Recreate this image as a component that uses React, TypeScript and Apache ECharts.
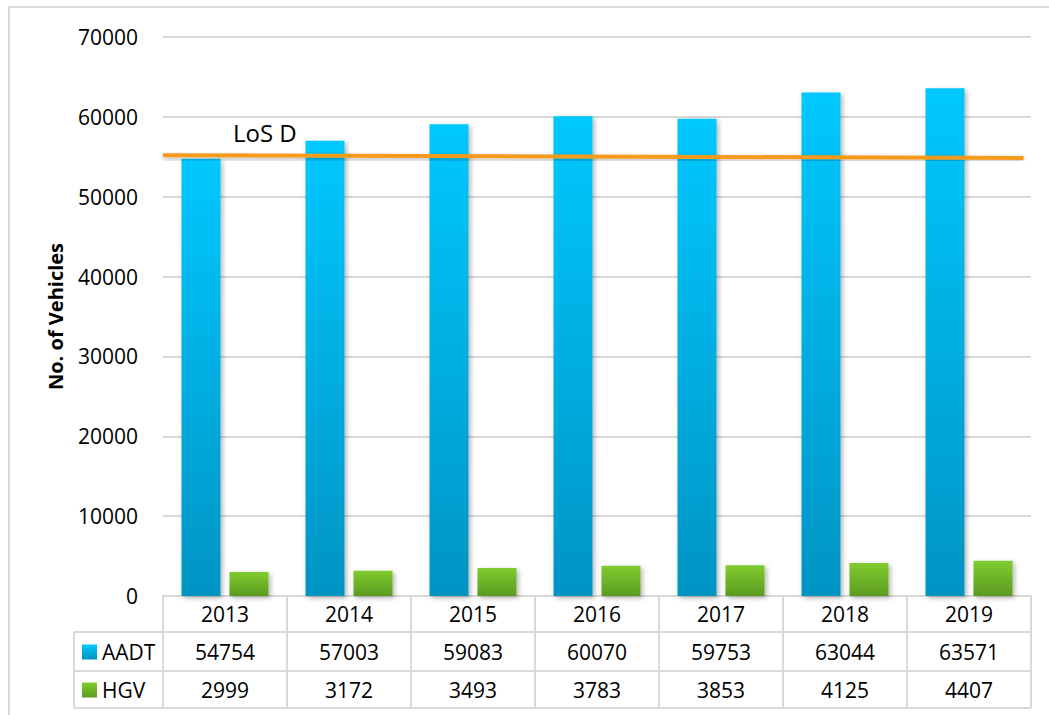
import React, { useEffect, useRef } from "react";
import * as echarts from "echarts";

// Traffic counts per year
const years = ["2013", "2014", "2015", "2016", "2017", "2018", "2019"];
const aadt = [54754, 57003, 59083, 60070, 59753, 63044, 63571];
const hgv = [2999, 3172, 3493, 3783, 3853, 4125, 4407];
// Level-of-service D threshold line (start / end on a 0..7 horizontal scale)
const losD = [
  [0, 55200],
  [6.94, 54850],
];
const yTicks = { min: 0, max: 70000, interval: 10000 };

const W = 1049;
const H = 715;
const GRID = { left: 163, right: 18, top: 37, bottom: 119 };
const FONT = "'Open Sans', 'Noto Sans', sans-serif";
const LINE = "#D9D9D9";

export default function App() {
  const ref = useRef<HTMLDivElement>(null);

  useEffect(() => {
    if (!ref.current) return;
    const chart = echarts.init(ref.current, null, { renderer: "svg" });

    const plotL = GRID.left;
    const plotR = W - GRID.right;
    const plotB = H - GRID.bottom;
    const colW = (plotR - plotL) / years.length;
    const row1 = plotB + 36;
    const row2 = plotB + 75;
    const row3 = plotB + 112;
    const tableL = 74;

    const lineStyle = { stroke: LINE, lineWidth: 2 };
    const tableLines: any[] = [];
    [row1, row2, row3].forEach((y) =>
      tableLines.push({ type: "line", shape: { x1: tableL, y1: y, x2: plotR, y2: y }, style: lineStyle })
    );
    for (let i = 0; i <= years.length; i++) {
      const x = plotL + colW * i;
      tableLines.push({ type: "line", shape: { x1: x, y1: plotB, x2: x, y2: row3 }, style: lineStyle });
    }
    tableLines.push({ type: "line", shape: { x1: tableL, y1: row1, x2: tableL, y2: row3 }, style: lineStyle });

    const blue = new echarts.graphic.LinearGradient(0, 0, 0, 1, [
      { offset: 0, color: "#00C8FF" },
      { offset: 1, color: "#0094C4" },
    ]);
    const green = new echarts.graphic.LinearGradient(0, 0, 0, 1, [
      { offset: 0, color: "#80CC2E" },
      { offset: 1, color: "#5C9A22" },
    ]);
    const barShadow = {
      shadowBlur: 5,
      shadowOffsetX: 2,
      shadowOffsetY: 2,
      shadowColor: "rgba(0,0,0,0.3)",
    };
    const tableLabel = { color: "#000", fontSize: 21, fontFamily: FONT, verticalAlign: "middle" };
    const legendBase = {
      orient: "horizontal",
      left: 82,
      itemWidth: 15,
      itemHeight: 15,
      icon: "rect",
      padding: 0,
      textStyle: { fontSize: 21, color: "#000", fontFamily: FONT },
    };

    chart.setOption({
      animation: false,
      backgroundColor: "#fff",
      textStyle: { fontFamily: FONT },
      grid: { ...GRID, containLabel: false },
      legend: [
        { ...legendBase, top: (row1 + row2) / 2 - 10, data: ["AADT"] },
        { ...legendBase, top: (row2 + row3) / 2 - 10, data: ["HGV"] },
      ],
      xAxis: [
        {
          type: "category",
          data: years,
          position: "bottom",
          axisLine: { lineStyle: { color: LINE, width: 2 } },
          axisTick: { show: false },
          axisLabel: { ...tableLabel, margin: 18 },
        },
        {
          type: "category",
          data: aadt.map(String),
          position: "bottom",
          offset: 36,
          axisLine: { show: false },
          axisTick: { show: false },
          axisLabel: { ...tableLabel, margin: 19.5 },
        },
        {
          type: "category",
          data: hgv.map(String),
          position: "bottom",
          offset: 75,
          axisLine: { show: false },
          axisTick: { show: false },
          axisLabel: { ...tableLabel, margin: 18.5 },
        },
        { type: "value", min: 0, max: years.length, show: false },
      ],
      yAxis: {
        type: "value",
        ...yTicks,
        name: "No. of Vehicles",
        nameLocation: "middle",
        nameRotate: 90,
        nameGap: 98,
        nameTextStyle: { fontSize: 20, fontWeight: "bold", color: "#000", fontFamily: FONT },
        axisLine: { show: false },
        axisTick: { show: false },
        axisLabel: {
          fontSize: 21,
          color: "#000",
          margin: 25,
          fontFamily: FONT,
          formatter: (v: number) => String(v),
        },
        splitLine: { lineStyle: { color: LINE, width: 2 } },
      },
      series: [
        {
          name: "AADT",
          type: "bar",
          xAxisIndex: 0,
          data: aadt,
          barWidth: 39,
          barGap: "23%",
          itemStyle: { color: blue, ...barShadow },
        },
        {
          name: "HGV",
          type: "bar",
          xAxisIndex: 0,
          data: hgv,
          barWidth: 39,
          itemStyle: { color: green, ...barShadow },
        },
        {
          name: "LoS D",
          type: "line",
          xAxisIndex: 3,
          data: losD,
          showSymbol: false,
          symbol: "none",
          z: 5,
          lineStyle: {
            color: "#F59B1E",
            width: 4,
            shadowBlur: 5,
            shadowOffsetY: 2,
            shadowColor: "rgba(0,0,0,0.3)",
          },
        },
      ],
      graphic: [
        {
          type: "rect",
          silent: true,
          z: -1,
          shape: { x: 9, y: 7, width: 1200, height: 800 },
          style: { fill: "none", stroke: LINE, lineWidth: 2 },
        },
        ...tableLines,
        {
          type: "text",
          left: 233,
          top: 120,
          style: { text: "LoS D", fontSize: 24, fill: "#000", fontFamily: FONT },
        },
      ],
    });

    return () => chart.dispose();
  }, []);

  return (
    <div
      ref={ref}
      style={{ position: "absolute", left: 0, top: 0, width: W, height: H }}
    />
  );
}
